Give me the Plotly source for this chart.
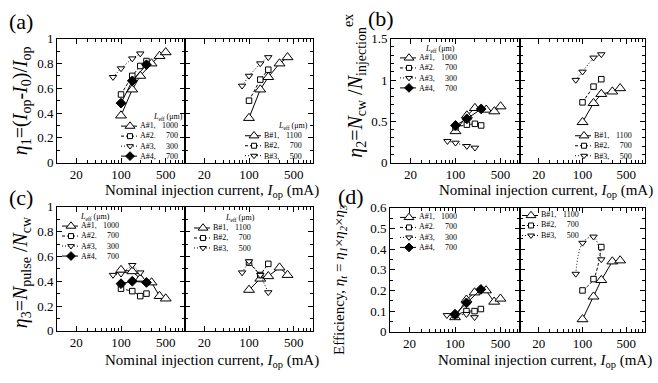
import plotly.graph_objects as go

W, H = 658, 383
FONT = "Liberation Serif"

# ---------------- data ----------------
# nominal injection currents (mA)
A1_I = [100, 150, 200, 300, 400, 500]
A2_I = [100, 150, 200, 250]
A3_I = [75, 100, 150, 200]
A4_I = [100, 150, 250]
B1_I = [100, 150, 200, 300, 400]
B2_I = [100, 150, 200]
B3_I = [78, 100, 150, 200]

# (a) eta1
eta1_A1 = [0.38, 0.59, 0.70, 0.80, 0.86, 0.89]
eta1_A2 = [0.55, 0.70, 0.78, 0.82]
eta1_A3 = [0.69, 0.76, 0.84, 0.88]
eta1_A4 = [0.48, 0.66, 0.79]
eta1_B1 = [0.36, 0.59, 0.69, 0.80, 0.85]
eta1_B2 = [0.50, 0.67, 0.75]
eta1_B3 = [0.62, 0.70, 0.80, 0.85]

# (b) eta2
eta2_A1 = [0.38, 0.57, 0.66, 0.64, 0.62, 0.68]
eta2_A2 = [0.43, 0.46, 0.47, 0.45]
eta2_A3 = [0.26, 0.24, 0.20, 0.18]
eta2_A4 = [0.45, 0.53, 0.65]
eta2_B1 = [0.49, 0.72, 0.83, 0.86, 0.90]
eta2_B2 = [0.73, 0.92, 1.01]
eta2_B3 = [1.00, 1.10, 1.27, 1.31]

# (c) eta3
eta3_A1 = [0.49, 0.48, 0.42, 0.39, 0.28, 0.26]
eta3_A2 = [0.34, 0.32, 0.28, 0.30]
eta3_A3 = [0.45, 0.46, 0.53, 0.47]
eta3_A4 = [0.38, 0.40, 0.39]
eta3_B1 = [0.33, 0.42, 0.44, 0.51, 0.45]
eta3_B2 = [0.55, 0.45, 0.54]
eta3_B3 = [0.47, 0.56, 0.45, 0.31]

# (d) total efficiency
etat_A1 = [0.07, 0.155, 0.19, 0.20, 0.145, 0.16]
etat_A2 = [0.08, 0.10, 0.10, 0.11]
etat_A3 = [0.08, 0.08, 0.085, 0.07]
etat_A4 = [0.085, 0.14, 0.205]
etat_B1 = [0.06, 0.17, 0.25, 0.34, 0.345]
etat_B2 = [0.20, 0.255, 0.41]
etat_B3 = [0.28, 0.43, 0.46, 0.35]

# legend labels (device, L_eff in um)
LABELS = {"A1": ("A#1,", "1000"), "A2": ("A#2.", "700"), "A3": ("A#3,", "300"),
          "A4": ("A#4,", "700"), "B1": ("B#1,", "1100"), "B2": ("B#2,", "700"),
          "B3": ("B#3,", "500")}

X_TICKS = [20, 100, 500]
X_TICKTEXT = ["20", "100", "500"]

# ---------------- styles ----------------
STY = {
    "1": dict(symbol="triangle-up", size=9.5, fill="white", dash="solid"),
    "2": dict(symbol="square", size=5.5, fill="white", dash="3px,2px"),
    "3": dict(symbol="triangle-down", size=6.5, fill="white", dash="1px,2px"),
    "4": dict(symbol="diamond", size=7.5, fill="black", dash="solid"),
}
LEG_FONT = 8
LH = 1.3 * LEG_FONT
TICK_FONT = 13

def dom_x(p0, p1):
    return [p0 / W, p1 / W]

def dom_y(p0, p1):
    return [1 - p1 / H, 1 - p0 / H]

panels = [
    dict(L=(57, 185), R=(185, 313), Y=(33, 162), yr=[0, 1], dt=0.2, mn=0.1,
         left=[("A1", A1_I, eta1_A1), ("A2", A2_I, eta1_A2), ("A3", A3_I, eta1_A3), ("A4", A4_I, eta1_A4)],
         right=[("B1", B1_I, eta1_B1), ("B2", B2_I, eta1_B2), ("B3", B3_I, eta1_B3)],
         legL=dict(kx=121, y0=124, title=(168, 115)),
         legR=dict(kx=245, y0=134, title=(293, 124)), spline=False),
    dict(L=(391, 520), R=(520, 645), Y=(33, 162), yr=[0, 1.5], dt=0.5, mn=0.1,
         left=[("A1", A1_I, eta2_A1), ("A2", A2_I, eta2_A2), ("A3", A3_I, eta2_A3), ("A4", A4_I, eta2_A4)],
         right=[("B1", B1_I, eta2_B1), ("B2", B2_I, eta2_B2), ("B3", B3_I, eta2_B3)],
         legL=dict(kx=400, y0=53, title=(440, 44)),
         legR=dict(kx=575, y0=134, title=None), spline=False),
    dict(L=(57, 185), R=(185, 313), Y=(208, 337), yr=[0, 1], dt=0.2, mn=0.1,
         left=[("A1", A1_I, eta3_A1), ("A2", A2_I, eta3_A2), ("A3", A3_I, eta3_A3), ("A4", A4_I, eta3_A4)],
         right=[("B1", B1_I, eta3_B1), ("B2", B2_I, eta3_B2), ("B3", B3_I, eta3_B3)],
         legL=dict(kx=62, y0=228, title=(95, 219)),
         legR=dict(kx=194, y0=230, title=(240, 220)), spline=False),
    dict(L=(390, 520), R=(520, 645), Y=(209, 338), yr=[0, 0.6], dt=0.1, mn=0.05,
         left=[("A1", A1_I, etat_A1), ("A2", A2_I, etat_A2), ("A3", A3_I, etat_A3), ("A4", A4_I, etat_A4)],
         right=[("B1", B1_I, etat_B1), ("B2", B2_I, etat_B2), ("B3", B3_I, etat_B3)],
         legL=dict(kx=400, y0=219, title=None),
         legR=dict(kx=522, y0=217, title=None), spline=True),
]

fig = go.Figure()
layout = dict(width=W, height=H, margin=dict(l=0, r=0, t=0, b=0),
              paper_bgcolor="white", plot_bgcolor="rgba(0,0,0,0)", showlegend=False,
              font=dict(family=FONT, color="black", size=14))

minor_x = [v for v in list(range(10, 100, 10)) + list(range(100, 1001, 100)) if v not in X_TICKS]

def add_trace(key, xs, ys, xa, ya, spline=False):
    s = STY[key[1]]
    fig.add_trace(go.Scatter(
        x=xs, y=ys, xaxis=xa, yaxis=ya, mode="lines+markers",
        line=dict(color="black", width=1, dash=s["dash"],
                  shape="spline" if (spline and key[0] == "B" and key[1] in "23") else "linear"),
        marker=dict(symbol=s["symbol"], size=s["size"], color=s["fill"],
                    line=dict(color="black", width=1)),
        cliponaxis=False, hoverinfo="skip"))

for i, p in enumerate(panels):
    for side in ("L", "R"):
        idx = 2 * i + (1 if side == "L" else 2)
        sx = "" if idx == 1 else str(idx)
        layout["xaxis" + sx] = dict(
            type="log", range=[1, 3], domain=dom_x(*p[side]), anchor="y" + sx,
            showline=True, linecolor="black", linewidth=1, mirror="allticks",
            ticks="inside", ticklen=5, tickwidth=1, tickcolor="black",
            tickmode="array", tickvals=X_TICKS, ticktext=X_TICKTEXT,
            tickfont=dict(family=FONT, size=TICK_FONT, color="black"), showgrid=False, zeroline=False,
            minor=dict(ticks="inside", ticklen=3, tickwidth=1, tickcolor="black",
                       tickmode="array", tickvals=minor_x, showgrid=False),
            fixedrange=True)
        layout["yaxis" + sx] = dict(
            range=p["yr"], domain=dom_y(*p["Y"]), anchor="x" + sx,
            showline=True, linecolor="black", linewidth=1, mirror="allticks",
            ticks="inside", ticklen=5, tickwidth=1, tickcolor="black",
            tick0=0, dtick=p["dt"], showticklabels=(side == "L"),
            tickfont=dict(family=FONT, size=TICK_FONT, color="black"), showgrid=False, zeroline=False,
            minor=dict(ticks="inside", ticklen=3, tickwidth=1, tickcolor="black",
                       tick0=0, dtick=p["mn"], showgrid=False),
            fixedrange=True)
        series = p["left"] if side == "L" else p["right"]
        for key, xs, ys in series:
            add_trace(key, xs, ys, "x" + sx, "y" + sx, p["spline"])

# overlay pixel axes for the compact legend keys
layout["xaxis9"] = dict(domain=[0, 1], range=[0, W], anchor="y9", visible=False, fixedrange=True)
layout["yaxis9"] = dict(domain=[0, 1], range=[H, 0], anchor="x9", visible=False, fixedrange=True)

annotations = []

def ann(x, y, text, size, xanchor="center", yanchor="middle", angle=0, align="center"):
    annotations.append(dict(x=x / W, y=1 - y / H, xref="paper", yref="paper", text=text,
                            showarrow=False, font=dict(family=FONT, size=size, color="black"),
                            xanchor=xanchor, yanchor=yanchor, textangle=angle, align=align,
                            borderpad=0))

for p in panels:
    for side, series in (("legL", p["left"]), ("legR", p["right"])):
        lg = p[side]
        kx, y0 = lg["kx"], lg["y0"]
        names, nums = [], []
        for j, (key, _, _) in enumerate(series):
            yy = y0 + j * LH
            s = STY[key[1]]
            fig.add_trace(go.Scatter(x=[kx, kx + 16], y=[yy, yy], xaxis="x9", yaxis="y9",
                                     mode="lines", line=dict(color="black", width=1, dash=s["dash"]),
                                     hoverinfo="skip"))
            fig.add_trace(go.Scatter(x=[kx + 9], y=[yy], xaxis="x9", yaxis="y9", mode="markers",
                                     marker=dict(symbol=s["symbol"], size=s["size"] * 0.9, color=s["fill"],
                                                 line=dict(color="black", width=1)),
                                     hoverinfo="skip"))
            names.append(LABELS[key][0])
            nums.append(LABELS[key][1])
        yc = y0 + (len(series) - 1) * LH / 2
        ann(kx + 18, yc, "<br>".join(names), LEG_FONT, xanchor="left", align="left")
        ann(kx + 58, yc, "<br>".join(nums), LEG_FONT, xanchor="right", align="right")
        if lg["title"]:
            tx, ty = lg["title"]
            ann(tx, ty, "<i>L</i><sub>eff</sub> (μm)", 8)

# panel letters
ann(21, 15, "(a)", 22)
ann(381, 12, "(b)", 22)
ann(21, 198, "(c)", 22)
ann(351, 197, "(d)", 22)

# x titles
xt = "Nominal injection current, <i>I</i><sub>op</sub> (mA)"
ann(212, 192, xt, 15)
ann(546, 192, xt, 15)
ann(212, 368, xt, 15)
ann(545, 368, xt, 15)

# y titles
ann(21, 98, "<i>η</i><sub>1</sub>=(<i>I</i><sub>op</sub>-<i>I</i><sub>0</sub>)/<i>I</i><sub>op</sub>", 20, angle=-90)
ann(355, 82, "<i>η</i><sub>2</sub>=<i>N</i><sub>cw</sub> /<i>N</i><sub>injection</sub><sup>ex</sup>", 20, angle=-90)
ann(21, 276, "<i>η</i><sub>3</sub>=<i>N</i><sub>pulse</sub> /<i>N</i><sub>cw</sub>", 20, angle=-90)
ann(340, 284, "Efficiency, <i>η<sub>t</sub></i> = <i>η<sub>1</sub></i>×<i>η<sub>2</sub></i>×<i>η<sub>3</sub></i>", 15, angle=-90)

layout["annotations"] = annotations
fig.update_layout(**layout)

fig.write_html("out.html", config={"displayModeBar": False},
               post_script="document.body.style.margin='0';document.body.style.overflow='hidden';")
